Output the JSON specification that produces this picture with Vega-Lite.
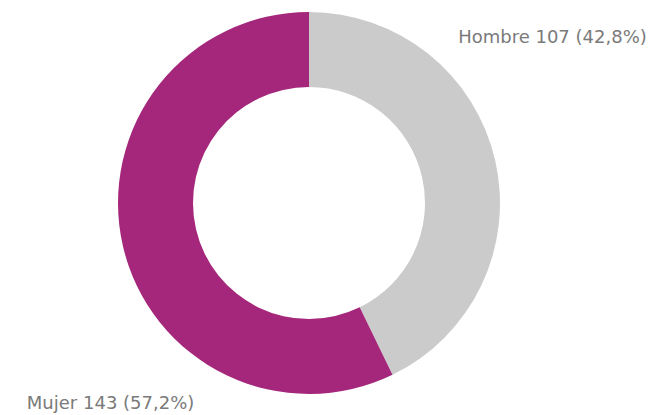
{
  "$schema": "https://vega.github.io/schema/vega-lite/v6.json",
  "width": 618,
  "height": 406,
  "autosize": "none",
  "padding": {"left": 0, "top": 0, "right": 33, "bottom": 9},
  "background": "white",
  "view": {"stroke": null, "clip": false},
  "data": {
    "values": [
      {"sexo": "Hombre", "n": 107, "label": "Hombre 107 (42,8%)"},
      {"sexo": "Mujer", "n": 143, "label": "Mujer 143 (57,2%)"}
    ]
  },
  "encoding": {
    "theta": {"field": "n", "type": "quantitative", "stack": true},
    "color": {
      "field": "sexo",
      "type": "nominal",
      "scale": {"domain": ["Hombre", "Mujer"], "range": ["#cbcbcb", "#a4277b"]},
      "legend": null
    }
  },
  "layer": [
    {"mark": {"type": "arc", "radius": 191, "radius2": 116}},
    {
      "mark": {"type": "text", "radius": 190, "align": "left", "baseline": "middle", "dx": -36, "dy": -122, "font": "DejaVu Sans", "fontSize": 18},
      "encoding": {
        "fill": {"value": "#7a7a7a"},
        "text": {"condition": {"test": "datum.sexo === 'Hombre'", "field": "label"}, "value": ""}
      }
    },
    {
      "mark": {"type": "text", "radius": 190, "align": "left", "baseline": "middle", "dx": -97, "dy": 158, "font": "DejaVu Sans", "fontSize": 18},
      "encoding": {
        "fill": {"value": "#7a7a7a"},
        "text": {"condition": {"test": "datum.sexo === 'Mujer'", "field": "label"}, "value": ""}
      }
    }
  ]
}
